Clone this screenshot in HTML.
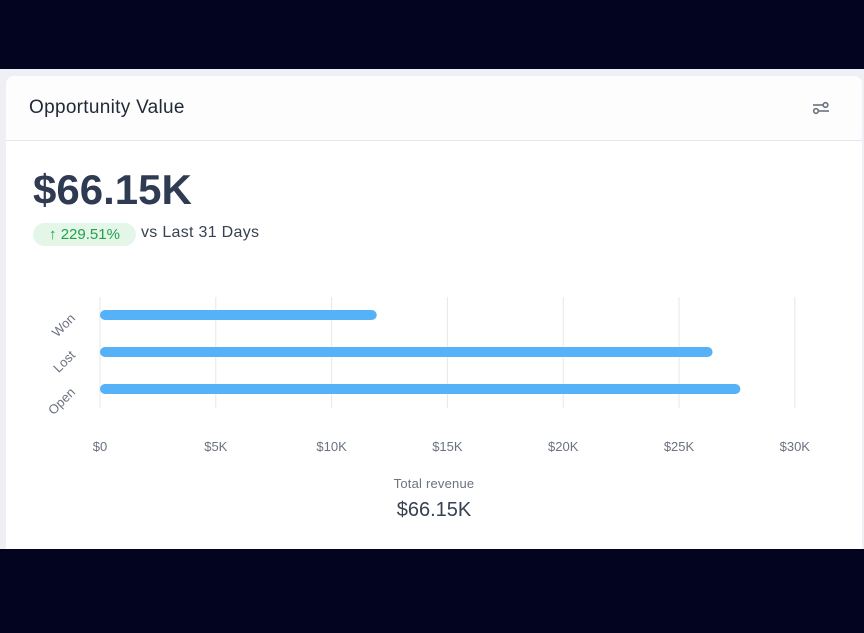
<!DOCTYPE html>
<html><head><meta charset="utf-8"><style>
html,body{margin:0;padding:0;}
body{width:864px;height:633px;background:#020420;position:relative;overflow:hidden;font-family:"Liberation Sans",sans-serif;}
.band{position:absolute;left:0;top:69px;width:864px;height:480px;background:#eef0f5;}
.card{position:absolute;left:6px;top:76px;width:856px;height:473px;background:#fff;border-radius:8px 8px 0 0;}
.hdr{position:absolute;left:0;top:0;width:856px;height:64px;border-bottom:1px solid #e5e7eb;background:#fdfdfd;border-radius:8px 8px 0 0;}
.title{position:absolute;left:23px;top:21px;font-size:19px;letter-spacing:0.3px;color:#1f2937;}
.big{position:absolute;left:27px;top:90px;font-size:42px;font-weight:bold;color:#2f3b52;}
.pill{position:absolute;left:27px;top:147px;width:103px;height:23px;border-radius:12px;background:#e3f6e8;color:#22a04b;font-size:15px;line-height:23px;text-align:center;}
.vs{position:absolute;left:135px;top:147px;font-size:16px;letter-spacing:0.3px;color:#374151;line-height:20px;}
.tr{position:absolute;left:0;width:856px;text-align:center;}
</style></head><body>
<div class="band"></div>
<div class="card">
 <div class="hdr">
  <div class="title">Opportunity Value</div>
  <svg style="position:absolute;left:806px;top:24px" width="18" height="16" viewBox="0 0 18 16"><g stroke="#6b7280" stroke-width="1.6" fill="none"><line x1="1" y1="5" x2="11" y2="5"/><circle cx="13.5" cy="5" r="2.3"/><line x1="7" y1="11" x2="17" y2="11"/><circle cx="4" cy="11" r="2.3"/></g></svg>
 </div>
 <div class="big">$66.15K</div>
 <div class="pill">↑ 229.51%</div>
 <div class="vs">vs Last 31 Days</div>
 <svg id="chart" style="position:absolute;left:0;top:0" width="856" height="400"></svg>
 <div class="tr" style="top:400px;left:0;font-size:13px;letter-spacing:0.2px;color:#6b7280">Total revenue</div>
 <div class="tr" style="top:423px;left:0;font-size:20px;color:#374151">$66.15K</div>
</div>
<script>
const categories=["Won","Lost","Open"];
const values=[11.95,26.45,27.65];
const ticks=[0,5,10,15,20,25,30];
const tickLabels=["$0","$5K","$10K","$15K","$20K","$25K","$30K"];
const svg=document.getElementById('chart');
const NS='http://www.w3.org/2000/svg';
const x0=94,pxPerK=23.16;
const x=v=>x0+v*pxPerK;
const y=i=>239+i*37;
function mk(t,a){const e=document.createElementNS(NS,t);for(const k in a)e.setAttribute(k,a[k]);svg.appendChild(e);return e;}
ticks.forEach((t,i)=>{
 const g=mk('line',{x1:x(t),x2:x(t),y1:221,y2:332,stroke:'#e5e7eb','stroke-width':1});
 
 
 const l=mk('text',{x:x(t),y:375,'text-anchor':'middle','font-size':13,fill:'#6b7280','font-family':'Liberation Sans, sans-serif'});
 l.textContent=tickLabels[i];
 
 
});
categories.forEach((c,i)=>{
 const b=mk('line',{x1:x(0)+5,x2:x(values[i])-5,y1:y(i),y2:y(i),stroke:'#55b1f8','stroke-width':10,'stroke-linecap':'round'});
 
 
 const l=mk('text',{x:0,y:0,'text-anchor':'end','font-size':13,fill:'#6b7280','font-family':'Liberation Sans, sans-serif',transform:`translate(70,${y(i)+4}) rotate(-45)`});
 l.textContent=c;
 
 
});
</script>
</body></html>
